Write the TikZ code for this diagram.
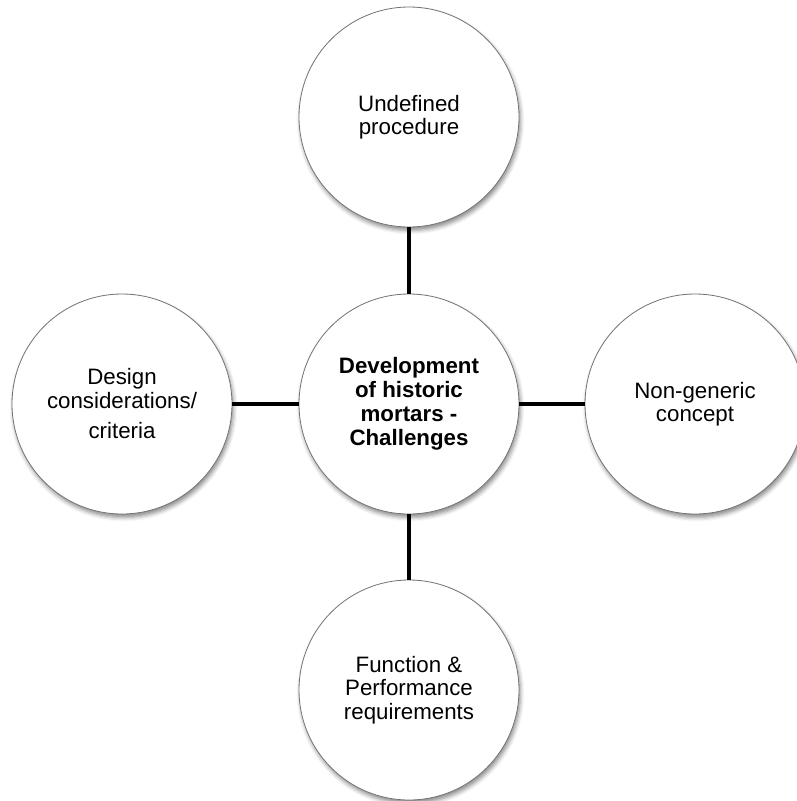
\documentclass[tikz,border=0pt]{standalone}
\usepackage{fontspec}
\setmainfont{Liberation Sans}
\usetikzlibrary{shadows.blur}
\tikzset{
  bubble/.style={circle, draw=black!55, line width=0.8pt, fill=white,
    minimum size=220pt, inner sep=0pt, align=center,
    font=\fontsize{22.3}{23.5}\selectfont,
    blur shadow={shadow xshift=1.5pt, shadow yshift=-3.5pt, shadow opacity=45, shadow blur radius=4pt}},
  hub/.style={bubble, font=\fontsize{22.3}{24}\selectfont\bfseries},
  link/.style={line width=4pt, black}
}
\begin{document}
\begin{tikzpicture}[x=1pt, y=-1pt]
  \useasboundingbox (0,0) rectangle (797,801);
  \node[hub]    (core)  at (409,404) {Development\\of historic\\mortars -\\Challenges};
  \node[bubble] (top)   at (409,117) {Undefined\\procedure};
  \node[bubble] (left)  at (122,404) {Design\\considerations/\\[7pt]criteria};
  \node[bubble] (right) at (695,404) {Non-generic\\concept};
  \node[bubble] (bot)   at (409,690) {Function \&\\Performance\\requirements};
  \draw[link] (top.south)  -- (core.north);
  \draw[link] (core.south) -- (bot.north);
  \draw[link] (left.east)  -- (core.west);
  \draw[link] (core.east)  -- (right.west);
\end{tikzpicture}
\end{document}
